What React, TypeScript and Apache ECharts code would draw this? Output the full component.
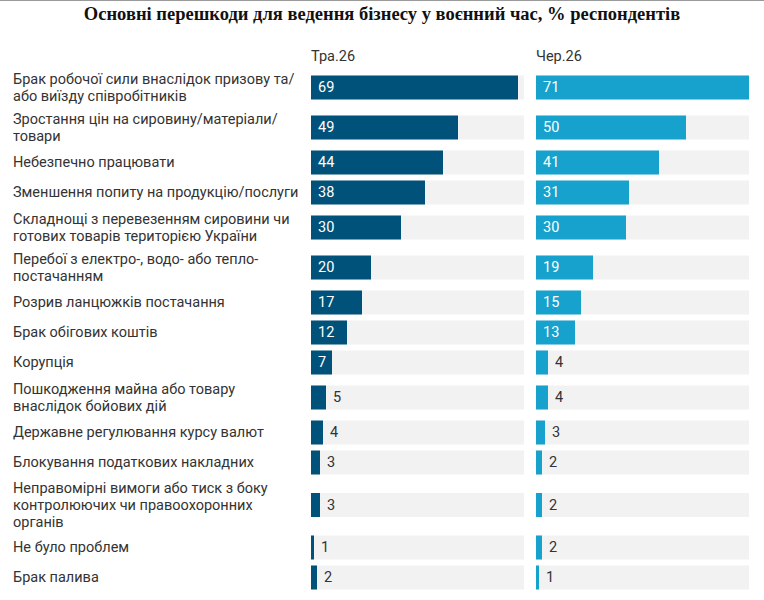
import React, { useEffect, useRef } from "react";
import * as echarts from "echarts";

const categories = [
  "Брак робочої сили внаслідок призову та/\nабо виїзду співробітників",
  "Зростання цін на сировину/матеріали/\nтовари",
  "Небезпечно працювати",
  "Зменшення попиту на продукцію/послуги",
  "Складнощі з перевезенням сировини чи\nготових товарів територією України",
  "Перебої з електро-, водо- або тепло-\nпостачанням",
  "Розрив ланцюжків постачання",
  "Брак обігових коштів",
  "Корупція",
  "Пошкодження майна або товару\nвнаслідок бойових дій",
  "Державне регулювання курсу валют",
  "Блокування податкових накладних",
  "Неправомірні вимоги або тиск з боку\nконтролюючих чи правоохоронних\nорганів",
  "Не було проблем",
  "Брак палива",
];
const may26 = [69, 49, 44, 38, 30, 20, 17, 12, 7, 5, 4, 3, 3, 1, 2];
const jun26 = [71, 50, 41, 31, 30, 19, 15, 13, 4, 4, 3, 2, 2, 2, 1];
const seriesNames = ["Тра.26", "Чер.26"];
const chartTitle = "Основні перешкоди для ведення бізнесу у воєнний час, % респондентів";

const COLORS = ["#00527b", "#17a1cd"];
const TRACK = "#f2f2f2";
const FONT = "Roboto";

export default function App() {
  const ref = useRef<HTMLDivElement>(null);
  useEffect(() => {
    if (!ref.current) return;
    const chart = echarts.init(ref.current, null, { renderer: "svg" });

    // row layout: slot height depends on number of label lines
    const slot = (n: number) => (n === 1 ? 30 : n === 2 ? 40 : 55);
    const centers: number[] = [];
    let acc = 0;
    categories.forEach((c) => {
      const h = slot(c.split("\n").length);
      centers.push(acc + h / 2);
      acc += h;
    });
    const total = acc;
    const xMax = Math.max(...may26, ...jun26);
    const BAR_H = 24;
    const top = 67.5;

    const barRender = (color: string) => (params: any, api: any) => {
      const v = api.value(0);
      const c = api.value(1);
      const p0 = api.coord([0, c]);
      const p1 = api.coord([v, c]);
      const pm = api.coord([xMax, c]);
      const inside = v >= 7;
      return {
        type: "group",
        children: [
          {
            type: "rect",
            shape: { x: p0[0], y: p0[1] - BAR_H / 2, width: pm[0] - p0[0], height: BAR_H },
            style: { fill: TRACK },
          },
          {
            type: "rect",
            shape: { x: p0[0], y: p0[1] - BAR_H / 2, width: p1[0] - p0[0], height: BAR_H },
            style: { fill: color },
          },
          {
            type: "text",
            x: inside ? p0[0] + 7 : p1[0] + 7,
            y: p0[1],
            style: {
              text: String(v),
              fill: inside ? "#ffffff" : "#333333",
              fontSize: 14.5,
              fontFamily: FONT,
              verticalAlign: "middle",
              align: "left",
            },
          },
        ],
      };
    };

    const labelRender = (params: any, api: any) => {
      const c = api.value(1);
      const idx = api.value(2);
      const p = api.coord([0, c]);
      return {
        type: "text",
        x: 13,
        y: p[1],
        style: {
          text: categories[idx],
          fill: "#333333",
          fontSize: 14.5,
          fontFamily: FONT,
          lineHeight: 17,
          verticalAlign: "middle",
          align: "left",
        },
      };
    };

    const headerStyle = { fontFamily: FONT, fontSize: 14.5, fontWeight: "normal", color: "#333333" };

    chart.setOption({
      animation: false,
      backgroundColor: "#ffffff",
      title: [
        {
          text: chartTitle,
          left: "center",
          top: 4,
          padding: 0,
          textStyle: { fontFamily: "Liberation Serif", fontWeight: "bold", fontSize: 18.5, color: "#111111" },
        },
        { text: seriesNames[0], left: 311, top: 49, padding: 0, textStyle: headerStyle },
        { text: seriesNames[1], left: 536, top: 49, padding: 0, textStyle: headerStyle },
      ],
      graphic: [
        { type: "rect", shape: { x: 0, y: 0, width: 764, height: 1 }, style: { fill: "#999999" } },
      ],
      grid: [
        { left: 311, width: 213, top, height: total },
        { left: 536, width: 213, top, height: total },
      ],
      xAxis: [
        { type: "value", gridIndex: 0, min: 0, max: xMax, show: false },
        { type: "value", gridIndex: 1, min: 0, max: xMax, show: false },
      ],
      yAxis: [
        { type: "value", gridIndex: 0, min: 0, max: total, inverse: true, show: false },
        { type: "value", gridIndex: 1, min: 0, max: total, inverse: true, show: false },
      ],
      series: [
        {
          type: "custom",
          name: seriesNames[0],
          xAxisIndex: 0,
          yAxisIndex: 0,
          clip: false,
          silent: true,
          encode: { x: 0, y: 1 },
          data: may26.map((v, i) => [v, centers[i], i]),
          renderItem: barRender(COLORS[0]),
        },
        {
          type: "custom",
          name: seriesNames[1],
          xAxisIndex: 1,
          yAxisIndex: 1,
          clip: false,
          silent: true,
          encode: { x: 0, y: 1 },
          data: jun26.map((v, i) => [v, centers[i], i]),
          renderItem: barRender(COLORS[1]),
        },
        {
          type: "custom",
          name: "labels",
          xAxisIndex: 0,
          yAxisIndex: 0,
          clip: false,
          silent: true,
          encode: { x: 0, y: 1 },
          data: categories.map((_, i) => [0, centers[i], i]),
          renderItem: labelRender,
        },
      ],
    });
    return () => chart.dispose();
  }, []);
  return (
    <div
      ref={ref}
      style={{ position: "absolute", left: 0, top: 0, width: 764, height: 600, background: "#fff" }}
    />
  );
}
